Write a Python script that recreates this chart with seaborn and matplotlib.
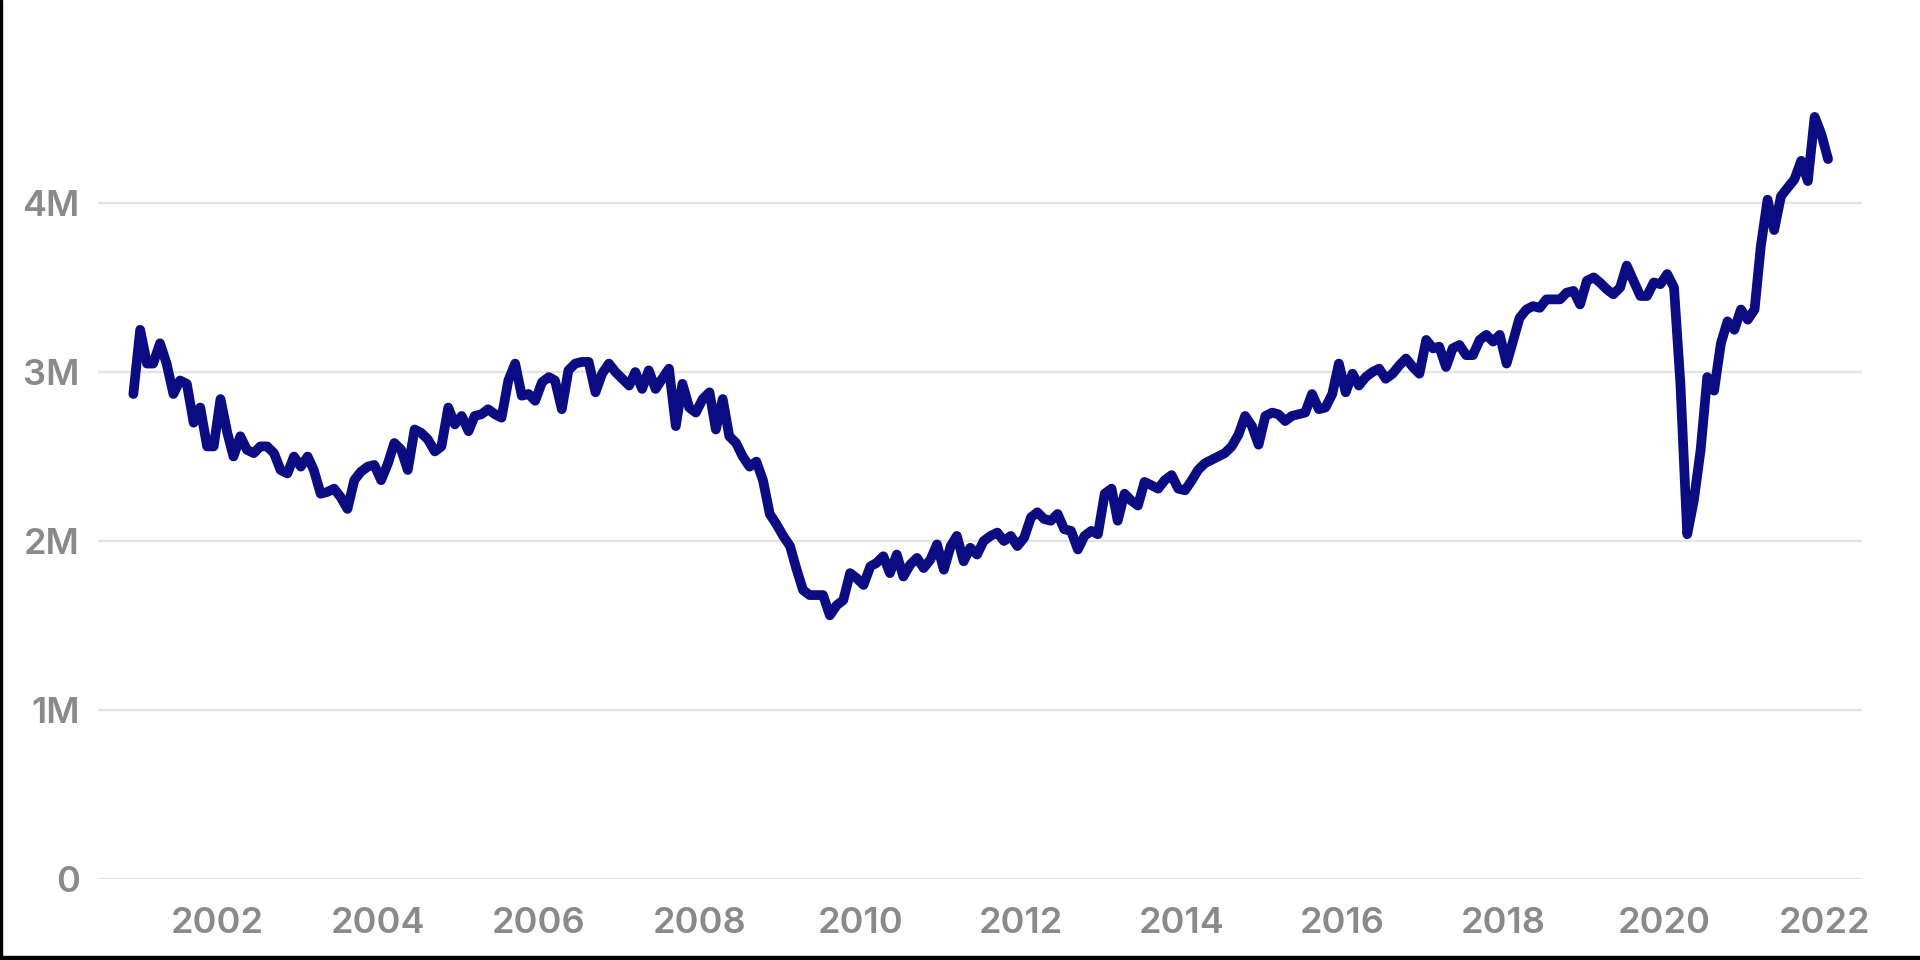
import numpy as np
import pandas as pd
import seaborn as sns
import matplotlib.pyplot as plt
from matplotlib.patches import Rectangle

# monthly quits, millions, Dec 2000 .. Jan 2022
start_month = "2000-12-01"
end_month = "2022-01-01"

quits_2000_2004 = [
    2.87,
    3.25, 3.05, 3.05, 3.17, 3.05, 2.87, 2.95, 2.93, 2.70, 2.79, 2.56, 2.56,
    2.84, 2.64, 2.50, 2.62, 2.54, 2.52, 2.56, 2.56, 2.52, 2.42, 2.40, 2.50,
    2.44, 2.50, 2.42, 2.28, 2.29, 2.31, 2.26, 2.19, 2.36, 2.41, 2.44, 2.45,
    2.36, 2.46, 2.58, 2.54, 2.42, 2.66, 2.64, 2.60, 2.53, 2.56, 2.79, 2.69,
]
quits_2005_2009 = [
    2.74, 2.65, 2.74, 2.75, 2.78, 2.75, 2.73, 2.95, 3.05, 2.86, 2.87, 2.83,
    2.94, 2.97, 2.95, 2.78, 3.01, 3.05, 3.06, 3.06, 2.88, 2.99, 3.05, 3.00,
    2.96, 2.92, 3.00, 2.90, 3.01, 2.90, 2.96, 3.02, 2.68, 2.93, 2.79, 2.76,
    2.84, 2.88, 2.66, 2.84, 2.62, 2.58, 2.50, 2.44, 2.47, 2.36, 2.16, 2.10,
    2.03, 1.97, 1.84, 1.71, 1.68, 1.68, 1.68, 1.56, 1.62, 1.65, 1.81, 1.78,
]
quits_2010_2014 = [
    1.74, 1.85, 1.87, 1.91, 1.81, 1.92, 1.79, 1.86, 1.90, 1.84, 1.89, 1.98,
    1.83, 1.97, 2.03, 1.88, 1.96, 1.92, 2.00, 2.03, 2.05, 2.00, 2.03, 1.97,
    2.02, 2.14, 2.17, 2.13, 2.12, 2.16, 2.07, 2.06, 1.95, 2.03, 2.06, 2.04,
    2.28, 2.31, 2.12, 2.28, 2.24, 2.21, 2.35, 2.33, 2.31, 2.36, 2.39, 2.31,
    2.30, 2.36, 2.42, 2.46, 2.48, 2.50, 2.52, 2.56, 2.63, 2.74, 2.68, 2.57,
]
quits_2015_2019 = [
    2.74, 2.76, 2.75, 2.71, 2.74, 2.75, 2.76, 2.87, 2.78, 2.79, 2.87, 3.05,
    2.88, 2.99, 2.92, 2.97, 3.00, 3.02, 2.96, 2.99, 3.04, 3.08, 3.03, 2.99,
    3.19, 3.14, 3.15, 3.03, 3.14, 3.16, 3.10, 3.10, 3.19, 3.22, 3.18, 3.22,
    3.05, 3.19, 3.32, 3.37, 3.39, 3.38, 3.43, 3.43, 3.43, 3.47, 3.48, 3.40,
    3.54, 3.56, 3.53, 3.49, 3.46, 3.50, 3.63, 3.54, 3.45, 3.45, 3.53, 3.52,
]
quits_2020_2022 = [
    3.58, 3.50, 2.93, 2.04, 2.24, 2.54, 2.97, 2.89, 3.17, 3.30, 3.25, 3.37,
    3.31, 3.37, 3.74, 4.02, 3.84, 4.04, 4.09, 4.14, 4.25, 4.13, 4.51, 4.41,
    4.26,
]

y_ticks = [0, 1, 2, 3, 4]
y_tick_labels = ["0", "1M", "2M", "3M", "4M"]
x_tick_years = list(range(2002, 2023, 2))

quits = (quits_2000_2004 + quits_2005_2009 + quits_2010_2014
         + quits_2015_2019 + quits_2020_2022)
# points sit mid-month in the source chart
dates = pd.date_range(start_month, end_month, freq="MS") + pd.Timedelta(days=14)
df = pd.DataFrame({"date": dates, "quits": quits})

sns.set_theme(style="white")
plt.rcParams["font.family"] = ["Inter", "DejaVu Sans"]

fig = plt.figure(figsize=(19.2, 9.6), dpi=100)
ax = fig.add_axes([0.051, 0.0844, 0.919, 0.853])

sns.lineplot(data=df, x="date", y="quits", ax=ax, color="#0b0b82", linewidth=7)
for ln in ax.lines:
    ln.set_solid_capstyle("round")
    ln.set_solid_joinstyle("round")

ax.set_ylim(0, 4.846)
ax.set_xlim(pd.Timestamp("2000-07-07"), pd.Timestamp("2022-06-20"))
ax.set_yticks(y_ticks)
ax.set_yticklabels(y_tick_labels)
ax.set_xticks([pd.Timestamp(f"{y}-01-01") for y in x_tick_years])
ax.set_xticklabels([str(y) for y in x_tick_years])

ax.grid(axis="y", color="#e3e3e3", linewidth=1.6)
ax.grid(axis="x", visible=False)
ax.set_axisbelow(True)
for s in ax.spines.values():
    s.set_visible(False)
ax.tick_params(axis="both", length=0, labelsize=26, labelcolor="#8a8a8a")
ax.tick_params(axis="y", pad=13)
ax.tick_params(axis="x", pad=20)
for lbl in ax.get_xticklabels() + ax.get_yticklabels():
    lbl.set_fontweight("semibold")
ax.set_xlabel("")
ax.set_ylabel("")

# dark frame at the left and bottom edge of the screenshot
fig.patches.append(Rectangle((0, 0), 0.0012, 1, transform=fig.transFigure, color="black"))
fig.patches.append(Rectangle((0, 0), 1, 0.004, transform=fig.transFigure, color="black"))

fig.savefig("out.png", dpi=100)
